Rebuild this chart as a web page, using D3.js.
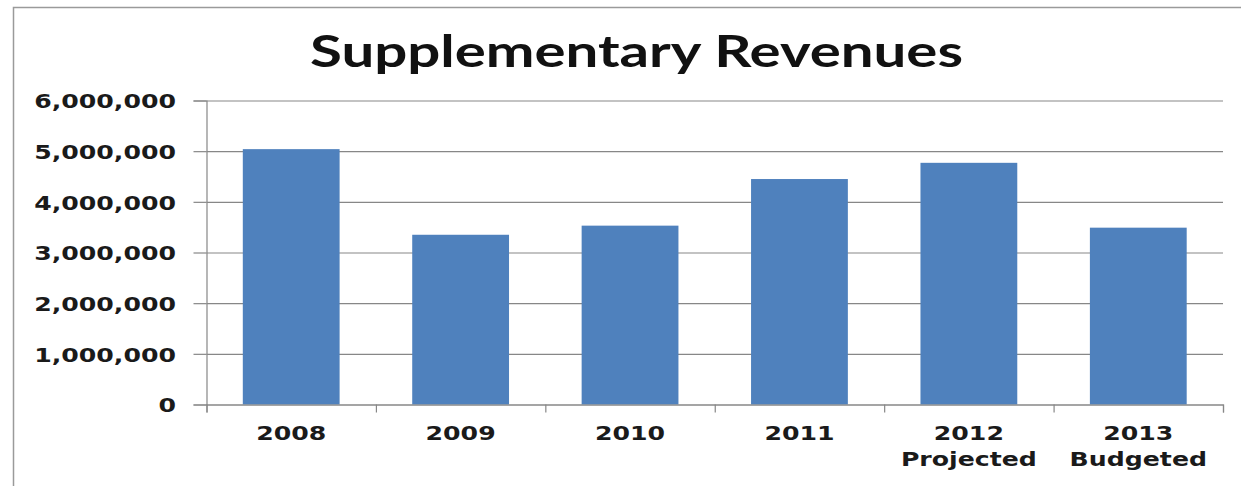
<!DOCTYPE html>
<html>
<head>
<meta charset="utf-8">
<script src="https://cdn.jsdelivr.net/npm/d3@7"></script>
<style>
  html, body { margin: 0; padding: 0; background: #fff; }
  svg { display: block; }
</style>
</head>
<body>
<svg id="chart" width="1241" height="486"></svg>
<script>
// Chart data
const categories = ["2008", "2009", "2010", "2011", "2012", "2013"];
const subLabels = ["", "", "", "", "Projected", "Budgeted"];
const revenues = [5040000, 3350000, 3530000, 4450000, 4770000, 3490000];
const yTicks = [0, 1000000, 2000000, 3000000, 4000000, 5000000, 6000000];
const titleText = "Supplementary Revenues";

const W = 1241, H = 486;
const plot = { left: 206.5, right: 1223, top: 100.5, bottom: 404.5 };
const stretch = 1.26;          // horizontal widening of the label type
const labelFont = "'DejaVu Sans', Verdana, sans-serif";

const svg = d3.select("#chart");

// outer chart frame (left and top edges)
svg.append("path")
  .attr("d", `M13.5,${H} V7.5 H${W}`)
  .attr("fill", "none")
  .attr("stroke", "#9a9a9a")
  .attr("stroke-width", 1.5);

// title
svg.append("text")
  .attr("x", 636.5)
  .attr("y", 66.5)
  .attr("text-anchor", "middle")
  .attr("font-family", "Lato, 'Open Sans', sans-serif")
  .attr("font-weight", 700)
  .attr("font-size", 44)
  .attr("fill", "#111")
  .attr("textLength", 653)
  .attr("lengthAdjust", "spacingAndGlyphs")
  .text(titleText);

// scales
const x = d3.scaleBand()
  .domain(categories)
  .range([plot.left, plot.right])
  .paddingInner(0.4286)
  .paddingOuter(0.2143);

const slots = d3.scaleLinear()
  .domain([0, categories.length])
  .range([plot.left, plot.right]);

const y = d3.scaleLinear()
  .domain([0, 6000000])
  .range([plot.bottom, plot.top]);

// horizontal gridlines
const grid = svg.append("g")
  .attr("transform", `translate(${plot.left},0)`)
  .call(d3.axisRight(y).tickValues(yTicks).tickSize(plot.right - plot.left).tickFormat(""));
grid.select(".domain").remove();
grid.selectAll(".tick line").attr("stroke", "#878787").attr("stroke-width", 1.2);

// bars
svg.append("g")
  .selectAll("rect")
  .data(revenues)
  .join("rect")
  .attr("x", (d, i) => x(categories[i]))
  .attr("y", d => y(d))
  .attr("width", x.bandwidth())
  .attr("height", d => y(0) - y(d))
  .attr("fill", "#4F81BD");

// y axis with tick labels
const yAxis = svg.append("g")
  .attr("transform", `translate(${plot.left},0)`)
  .call(d3.axisLeft(y).tickValues(yTicks).tickSize(13).tickFormat(d3.format(",")));
yAxis.select(".domain").attr("stroke", "#878787").attr("stroke-width", 1.2);
yAxis.selectAll(".tick line").attr("stroke", "#878787").attr("stroke-width", 1.2);
yAxis.selectAll(".tick text")
  .attr("x", -30.5 / stretch)
  .attr("dy", "0.36em")
  .attr("transform", `scale(${stretch},1)`)
  .attr("font-family", labelFont)
  .attr("font-weight", 700)
  .attr("font-size", 20)
  .attr("fill", "#1a1a1a");

// x axis line with ticks at category boundaries
const xTicksAxis = svg.append("g")
  .attr("transform", `translate(0,${plot.bottom})`)
  .call(d3.axisBottom(slots).tickValues(d3.range(categories.length + 1)).tickSize(8).tickFormat(""));
xTicksAxis.select(".domain").attr("stroke", "#878787").attr("stroke-width", 1.2);
xTicksAxis.selectAll(".tick line").attr("stroke", "#878787").attr("stroke-width", 1.2);

// category labels
const xLabels = svg.append("g")
  .attr("transform", `translate(0,${plot.bottom})`)
  .call(d3.axisBottom(x).tickSize(0).tickFormat(""));
xLabels.select(".domain").remove();
xLabels.selectAll(".tick").each(function (d, i) {
  const t = d3.select(this).select("text")
    .attr("y", 35.5)
    .attr("dy", 0)
    .attr("transform", `scale(${stretch},1)`)
    .attr("font-family", labelFont)
    .attr("font-weight", 700)
    .attr("font-size", 20)
    .attr("fill", "#1a1a1a");
  t.append("tspan").attr("x", 0).text(categories[i]);
  if (subLabels[i]) {
    t.append("tspan").attr("x", 0).attr("dy", 26.5).text(subLabels[i]);
  }
});
</script>
</body>
</html>
